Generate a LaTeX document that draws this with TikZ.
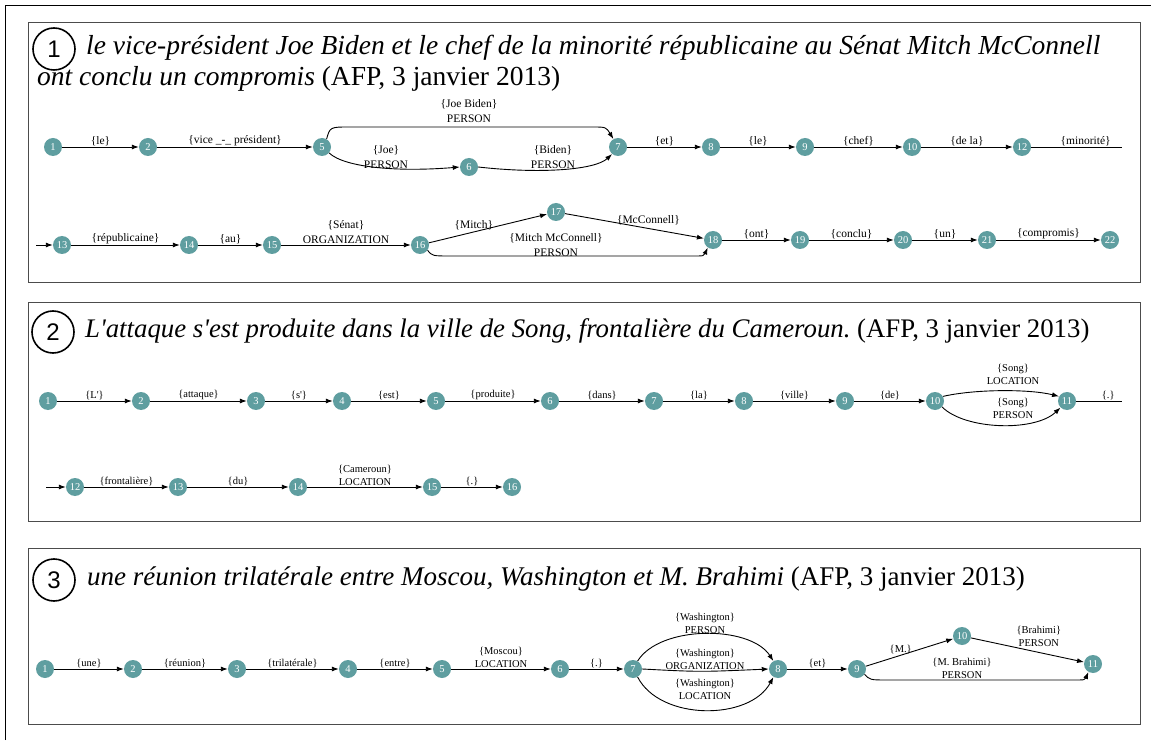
\documentclass[tikz,border=0pt]{standalone}
\usepackage{fontspec}
\setmainfont{Liberation Serif}
\newfontfamily\circfont{Liberation Sans}
\usetikzlibrary{arrows.meta}
\definecolor{cadet}{HTML}{5F9EA0}
\frenchspacing

\begin{document}
\begin{tikzpicture}[x=1pt,y=1pt,
  tok/.style={circle,fill=cadet,text=white,inner sep=0pt,minimum size=18pt,font=\fontsize{10.5}{10.5}\selectfont},
  lbl/.style={inner sep=1pt,align=center,font=\fontsize{11.5}{14.5}\selectfont},
  lbs/.style={inner sep=1pt,align=center,font=\fontsize{10.5}{13}\selectfont},
  arc/.style={line width=0.9pt,-{Latex[length=7pt,width=5pt]}},
  lne/.style={line width=0.9pt},
  panel/.style={draw=black!70,line width=1pt},
  numc/.style={circle,draw,line width=1.6pt,minimum size=42pt,inner sep=0pt,font=\circfont\fontsize{24}{24}\selectfont},
  title/.style={anchor=base west,inner sep=0pt,font=\fontsize{27}{32}\selectfont}]
\useasboundingbox (0,0) rectangle (1151,740);
\draw[line width=1.3pt] (5.5,0) -- (5.5,734.5) -- (1151,734.5);

% phrase 1
\draw[panel] (28,457) rectangle (1140,717.5);
\node[numc] (c1) at (54,691) {1};
\node[title,font=\fontsize{27.5}{32}\selectfont] (t1a) at (86,685) {\itshape le vice-président Joe Biden et le chef de la minorité républicaine au Sénat Mitch McConnell};
\node[title,font=\fontsize{27.5}{32}\selectfont] (t1b) at (37,654) {{\itshape ont conclu un compromis} (AFP, 3 janvier 2013)};

\node[tok] (a1) at (53,593) {1};
\node[tok] (a2) at (148,593) {2};
\node[tok] (a5) at (322,593) {5};
\node[tok] (a6) at (469,573) {6};
\node[tok] (a7) at (618,593) {7};
\node[tok] (a8) at (711,593) {8};
\node[tok] (a9) at (805,593) {9};
\node[tok] (a10) at (912,593) {10};
\node[tok] (a12) at (1022,593) {12};
\coordinate (e1) at (1122,593);
\draw[arc] (a1) -- node[lbl,above]{\{le\}} (a2);
\draw[arc] (a2) -- node[lbl,above]{\{vice \_-\_ président\}} (a5);
\draw[arc] (a5.60) .. controls (330,613) .. (350,613) -- (592,613) .. controls (606,613) .. (a7.120);
\draw[arc] (a5.-40) .. controls (345,572) and (400,568) .. (a6.west);
\draw[arc] (a6.east) .. controls (540,566) and (595,570) .. (a7.-130);
\node[lbl] (j1) at (469,629) {\{Joe Biden\}\\PERSON};
\node[lbl] (j2) at (386,583) {\{Joe\}\\PERSON};
\node[lbl] (j3) at (553,583) {\{Biden\}\\PERSON};
\draw[arc] (a7) -- node[lbl,above]{\{et\}} (a8);
\draw[arc] (a8) -- node[lbl,above]{\{le\}} (a9);
\draw[arc] (a9) -- node[lbl,above]{\{chef\}} (a10);
\draw[arc] (a10) -- node[lbl,above]{\{de la\}} (a12);
\draw[lne] (a12) -- node[lbl,above,pos=.6]{\{minorité\}} (e1);

\coordinate (e2) at (36,495);
\node[tok] (b13) at (62,495) {13};
\node[tok] (b14) at (189,495) {14};
\node[tok] (b15) at (272,495) {15};
\node[tok] (b16) at (420,495) {16};
\node[tok] (b17) at (556,528) {17};
\node[tok] (b18) at (713,500) {18};
\node[tok] (b19) at (800,500) {19};
\node[tok] (b20) at (903,500) {20};
\node[tok] (b21) at (987,500) {21};
\node[tok] (b22) at (1110,500) {22};
\draw[arc] (e2) -- (b13);
\draw[arc] (b13) -- node[lbl,above]{\{républicaine\}} (b14);
\draw[arc] (b14) -- node[lbl,above]{\{au\}} (b15);
\draw[arc] (b15) -- node[lbl,above]{\{Sénat\}\\ORGANIZATION} (b16);
\draw[arc] (b16) -- node[lbl,above,pos=.38]{\{Mitch\}} (b17);
\draw[arc] (b17) -- node[lbl,above=2pt,pos=.6]{\{McConnell\}} (b18);
\draw[arc] (b16.-35) .. controls (432,484) .. (452,484) -- (692,484) .. controls (704,484) .. (b18.-125);
\node[lbl] (m1) at (556,495) {\{Mitch McConnell\}\\PERSON};
\draw[arc] (b18) -- node[lbl,above]{\{ont\}} (b19);
\draw[arc] (b19) -- node[lbl,above]{\{conclu\}} (b20);
\draw[arc] (b20) -- node[lbl,above]{\{un\}} (b21);
\draw[arc] (b21) -- node[lbl,above]{\{compromis\}} (b22);

% phrase 2
\draw[panel] (28,219) rectangle (1140,437);
\node[numc] (c2) at (53,408) {2};
\node[title,font=\fontsize{26.8}{32}\selectfont] (t2) at (85,402) {{\itshape L\textquotesingle attaque s\textquotesingle est produite dans la ville de Song, frontalière du Cameroun.} (AFP, 3 janvier 2013)};

\node[tok] (s1) at (48,339) {1};
\node[tok] (s2) at (141,339) {2};
\node[tok] (s3) at (256,339) {3};
\node[tok] (s4) at (342,339) {4};
\node[tok] (s5) at (436,339) {5};
\node[tok] (s6) at (550,339) {6};
\node[tok] (s7) at (654,339) {7};
\node[tok] (s8) at (744,339) {8};
\node[tok] (s9) at (845,339) {9};
\node[tok] (s10) at (935,339) {10};
\node[tok] (s11) at (1067,339) {11};
\coordinate (e3) at (1122,339);
\draw[arc] (s1) -- node[lbs,above]{\{L\textquotesingle\}} (s2);
\draw[arc] (s2) -- node[lbs,above]{\{attaque\}} (s3);
\draw[arc] (s3) -- node[lbs,above]{\{s\textquotesingle\}} (s4);
\draw[arc] (s4) -- node[lbs,above]{\{est\}} (s5);
\draw[arc] (s5) -- node[lbs,above]{\{produite\}} (s6);
\draw[arc] (s6) -- node[lbs,above]{\{dans\}} (s7);
\draw[arc] (s7) -- node[lbs,above]{\{la\}} (s8);
\draw[arc] (s8) -- node[lbs,above]{\{ville\}} (s9);
\draw[arc] (s9) -- node[lbs,above]{\{de\}} (s10);
\draw[arc] (s10.30) .. controls (975,351) and (1030,351) .. (s11.150);
\draw[arc] (s10.-40) .. controls (965,310) and (1035,308) .. (s11.-135);
\node[lbs] (g1) at (1013,366) {\{Song\}\\LOCATION};
\node[lbs] (g2) at (1013,332) {\{Song\}\\PERSON};
\draw[lne] (s11) -- node[lbs,above,pos=.7]{\{.\}} (e3);

\coordinate (e4) at (46,253);
\node[tok] (s12) at (75,253) {12};
\node[tok] (s13) at (178,253) {13};
\node[tok] (s14) at (298,253) {14};
\node[tok] (s15) at (432,253) {15};
\node[tok] (s16) at (512,253) {16};
\draw[arc] (e4) -- (s12);
\draw[arc] (s12) -- node[lbs,above]{\{frontalière\}} (s13);
\draw[arc] (s13) -- node[lbs,above]{\{du\}} (s14);
\draw[arc] (s14) -- node[lbs,above]{\{Cameroun\}\\LOCATION} (s15);
\draw[arc] (s15) -- node[lbs,above]{\{.\}} (s16);

% phrase 3
\draw[panel] (28,16) rectangle (1140,192);
\node[numc] (c3) at (54,160) {3};
\node[title] (t3) at (87,155) {{\itshape une réunion trilatérale entre Moscou, Washington et M. Brahimi} (AFP, 3 janvier 2013)};

\node[tok] (d1) at (45,71) {1};
\node[tok] (d2) at (133,71) {2};
\node[tok] (d3) at (237,71) {3};
\node[tok] (d4) at (348,71) {4};
\node[tok] (d5) at (442,71) {5};
\node[tok] (d6) at (560,71) {6};
\node[tok] (d7) at (633,71) {7};
\node[tok] (d8) at (778,71) {8};
\node[tok] (d9) at (857,71) {9};
\node[tok] (d10) at (962,104) {10};
\node[tok] (d11) at (1093,76) {11};
\draw[arc] (d1) -- node[lbs,above]{\{une\}} (d2);
\draw[arc] (d2) -- node[lbs,above]{\{réunion\}} (d3);
\draw[arc] (d3) -- node[lbs,above]{\{trilatérale\}} (d4);
\draw[arc] (d4) -- node[lbs,above]{\{entre\}} (d5);
\draw[arc] (d5) -- node[lbs,above]{\{Moscou\}\\LOCATION} (d6);
\draw[arc] (d6) -- node[lbs,above]{\{.\}} (d7);
\draw[arc] (d7.60) .. controls (660,115) and (750,115) .. (d8.120);
\draw[arc] (d7.east) .. controls (700,68) .. (d8.west);
\draw[arc] (d7.-60) .. controls (660,19) and (750,19) .. (d8.-120);
\node[lbs] (w1) at (705,117) {\{Washington\}\\PERSON};
\node[lbs] (w2) at (705,81) {\{Washington\}\\ORGANIZATION};
\node[lbs] (w3) at (705,51) {\{Washington\}\\LOCATION};
\draw[arc] (d8) -- node[lbs,above]{\{et\}} (d9);
\draw[arc] (d9) -- node[lbs,above,pos=.4]{\{M.\}} (d10);
\draw[arc] (d10) -- node[lbs,above=4pt,pos=.6]{\{Brahimi\}\\PERSON} (d11);
\draw[arc] (d9.-35) .. controls (870,60) .. (888,60) -- (1072,60) .. controls (1085,60) .. (d11.-120);
\node[lbs] (h1) at (962,72) {\{M. Brahimi\}\\PERSON};
\end{tikzpicture}
\end{document}
